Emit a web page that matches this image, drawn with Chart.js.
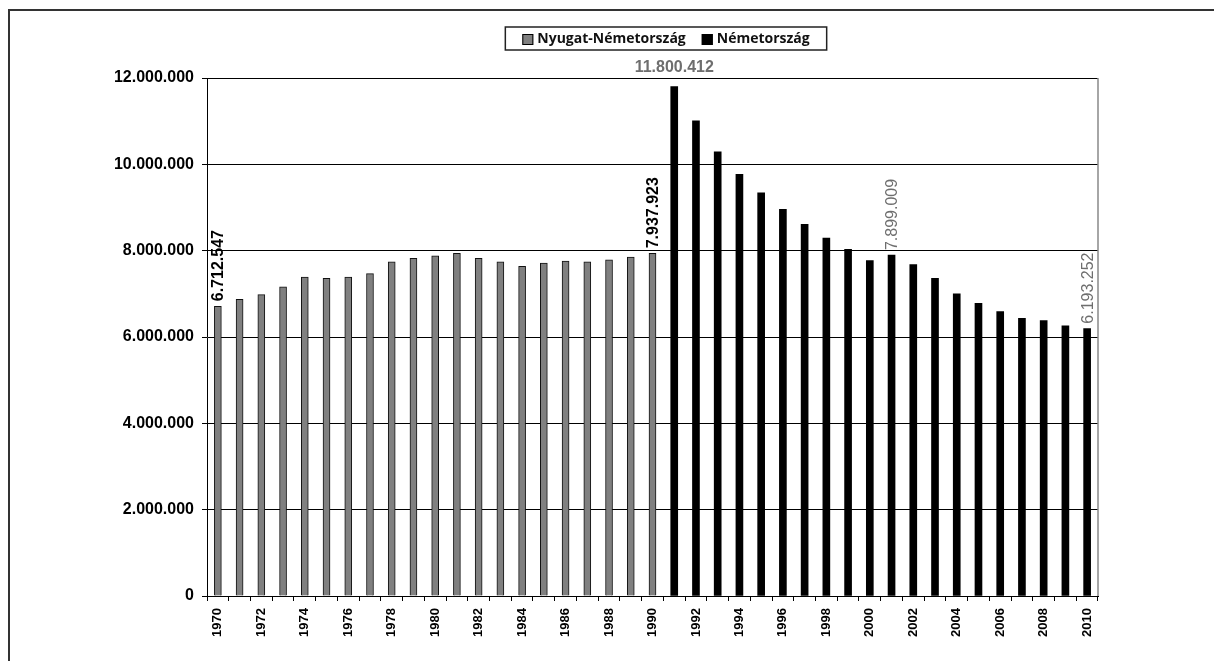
<!DOCTYPE html>
<html>
<head>
<meta charset="utf-8">
<script src="https://cdn.jsdelivr.net/npm/chart.js@4.4.1/dist/chart.umd.min.js"></script>
<style>
  html, body { margin: 0; padding: 0; background: #fff; }
  #wrap { width: 1214px; height: 661px; position: relative; }
</style>
</head>
<body>
<div id="wrap"><canvas id="myChart" width="1214" height="661"></canvas></div>
<script>
const years = [
    '1970', '1971', '1972', '1973', '1974', '1975', '1976', '1977', '1978', '1979',
    '1980', '1981', '1982', '1983', '1984', '1985', '1986', '1987', '1988', '1989',
    '1990', '1991', '1992', '1993', '1994', '1995', '1996', '1997', '1998', '1999',
    '2000', '2001', '2002', '2003', '2004', '2005', '2006', '2007', '2008', '2009',
    '2010'
];

// 1970-1990
const nyugat = [
    6712547, 6870000, 6980000, 7160000, 7390000, 7360000, 7390000, 7470000, 7740000, 7820000,
    7880000, 7940000, 7820000, 7740000, 7640000, 7710000, 7760000, 7740000, 7790000, 7850000,
    7937923
];

// 1991-2010
const nemet = [
    11800412, 11010000, 10290000, 9770000, 9340000, 8960000, 8610000, 8290000, 8030000, 7770000,
    7899009, 7680000, 7360000, 7000000, 6780000, 6590000, 6430000, 6380000, 6260000, 6193252
];

const yTicks = [0, 2000000, 4000000, 6000000, 8000000, 10000000, 12000000];

// years that get a value label: [year, colour, rotated, bold]
const labelled = [
    ['1970', '#000', true, true],
    ['1990', '#000', true, true],
    ['1991', '#6e6e6e', false, true],
    ['2001', '#6e6e6e', true, false],
    ['2010', '#6e6e6e', true, false]
];

function fmt(v) {
    return String(v).replace(/\B(?=(\d{3})+(?!\d))/g, '.');
}

const nyugatData = years.map((y, i) => i < nyugat.length ? nyugat[i] : null);
const nemetData = years.map((y, i) => i < nyugat.length ? null : nemet[i - nyugat.length]);

const data = {
    labels: years,
    datasets: [{
        label: 'Nyugat-Németország',
        backgroundColor: '#808080',
        borderColor: '#111',
        borderWidth: 1,
        borderSkipped: 'bottom',
        data: nyugatData
    }, {
        label: 'Németország',
        backgroundColor: '#000',
        borderColor: '#000',
        borderWidth: 0,
        data: nemetData
    }]
};

const frame = {
    id: 'frame',
    beforeDraw(chart) {
        const ctx = chart.ctx;
        ctx.save();
        ctx.strokeStyle = '#333';
        ctx.lineWidth = 2;
        ctx.beginPath();
        ctx.moveTo(9, 661);
        ctx.lineTo(9, 10);
        ctx.lineTo(1214, 10);
        ctx.stroke();
        ctx.restore();
    },
    afterDraw(chart) {
        const ctx = chart.ctx;
        const a = chart.chartArea;
        ctx.save();
        ctx.strokeStyle = '#888';
        ctx.lineWidth = 1.5;
        ctx.beginPath();
        ctx.moveTo(a.right, a.top);
        ctx.lineTo(a.right, a.bottom);
        ctx.stroke();

        // legend
        ctx.font = 'bold 14px "Open Sans"';
        ctx.textBaseline = 'middle';
        const items = chart.data.datasets;
        const sw = 11, gap = 4, space = 16;
        let total = 0;
        items.forEach((d, i) => {
            total += sw + gap + ctx.measureText(d.label).width + (i ? space : 0);
        });
        const cx = 666, top = 27, h = 23;
        let x = cx - total / 2;
        ctx.strokeStyle = '#222';
        ctx.lineWidth = 1.5;
        ctx.strokeRect(cx - total / 2 - 17, top, total + 34, h);
        items.forEach((d, i) => {
            if (i) x += space;
            ctx.fillStyle = d.backgroundColor;
            ctx.fillRect(x, top + 7, sw, sw);
            ctx.strokeStyle = '#000';
            ctx.lineWidth = 1;
            ctx.strokeRect(x + 0.5, top + 7.5, sw - 1, sw - 1);
            x += sw + gap;
            ctx.fillStyle = '#111';
            ctx.fillText(d.label, x, top + h / 2 + 1);
            x += ctx.measureText(d.label).width;
        });

        // value labels
        const xs = chart.scales.x, ys = chart.scales.y;
        labelled.forEach(([yr, col, rot, bold]) => {
            const i = years.indexOf(yr);
            const v = nyugatData[i] != null ? nyugatData[i] : nemetData[i];
            const px = xs.getPixelForValue(i);
            const py = ys.getPixelForValue(v);
            ctx.fillStyle = col;
            ctx.font = (bold ? 'bold ' : '') + '16px "Liberation Sans", Arial';
            if (rot) {
                ctx.save();
                ctx.translate(px + 1, py - 5);
                ctx.rotate(-Math.PI / 2);
                ctx.textAlign = 'left';
                ctx.textBaseline = 'middle';
                ctx.fillText(fmt(v), 0, 0);
                ctx.restore();
            } else {
                ctx.textAlign = 'center';
                ctx.textBaseline = 'bottom';
                ctx.fillText(fmt(v), px, py - 11);
            }
        });
        ctx.restore();
    }
};

const options = {
    responsive: false,
    animation: false,
    layout: { padding: { left: 0, top: 78, right: 116, bottom: 0 } },
    plugins: {
        legend: { display: false },
        tooltip: { enabled: false }
    },
    datasets: {
        bar: { grouped: false, barThickness: 7 }
    },
    scales: {
        x: {
            grid: { offset: true, drawOnChartArea: false, tickLength: 5, color: '#000' },
            border: { color: '#000', width: 1 },
            ticks: {
                autoSkip: false,
                maxRotation: 90,
                minRotation: 90,
                padding: 7,
                color: '#000',
                font: { family: '"Liberation Sans", Arial', size: 13, weight: 'bold' },
                callback: function (val, i) {
                    return i % 2 == 0 ? years[i] : '';
                }
            },
            afterFit: function (scale) { scale.height = 65; }
        },
        y: {
            min: 0,
            max: 12000000,
            afterBuildTicks: function (scale) {
                scale.ticks = yTicks.map(v => ({ value: v }));
            },
            grid: { color: '#000', tickLength: 5, lineWidth: 1 },
            border: { color: '#000', width: 1 },
            ticks: {
                padding: 8,
                color: '#000',
                font: { family: '"Liberation Sans", Arial', size: 16, weight: 'bold' },
                callback: v => fmt(v)
            },
            afterFit: function (scale) { scale.width = 207; }
        }
    }
};

const config = {
    type: 'bar',
    data,
    options,
    plugins: [frame]
};

var myChart = new Chart(
    document.getElementById('myChart'),
    config
);
</script>
</body>
</html>
